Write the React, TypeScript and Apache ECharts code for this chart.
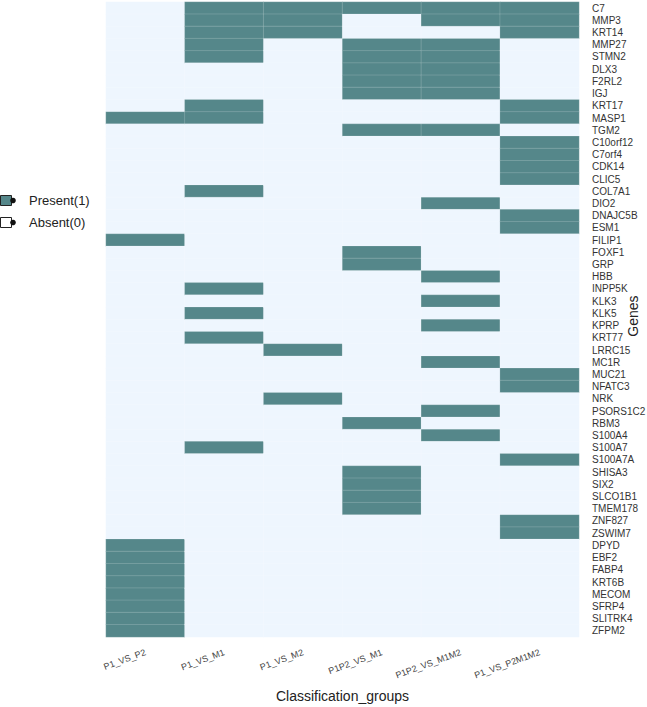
import React, { useEffect, useRef } from "react";
import * as echarts from "echarts";

const groups = ["P1_VS_P2", "P1_VS_M1", "P1_VS_M2", "P1P2_VS_M1", "P1P2_VS_M1M2", "P1_VS_P2M1M2"];

const genes = [
  "C7", "MMP3", "KRT14", "MMP27", "STMN2", "DLX3", "F2RL2", "IGJ", "KRT17", "MASP1",
  "TGM2", "C10orf12", "C7orf4", "CDK14", "CLIC5", "COL7A1", "DIO2", "DNAJC5B", "ESM1", "FILIP1",
  "FOXF1", "GRP", "HBB", "INPP5K", "KLK3", "KLK5", "KPRP", "KRT77", "LRRC15", "MC1R",
  "MUC21", "NFATC3", "NRK", "PSORS1C2", "RBM3", "S100A4", "S100A7", "S100A7A", "SHISA3", "SIX2",
  "SLCO1B1", "TMEM178", "ZNF827", "ZSWIM7", "DPYD", "EBF2", "FABP4", "KRT6B", "MECOM", "SFRP4",
  "SLITRK4", "ZFPM2",
];

// genes marked Present(1) in each classification group
const present_P1_VS_P2 = ["MASP1", "FILIP1", "DPYD", "EBF2", "FABP4", "KRT6B", "MECOM", "SFRP4", "SLITRK4", "ZFPM2"];
const present_P1_VS_M1 = ["C7", "MMP3", "KRT14", "MMP27", "STMN2", "KRT17", "MASP1", "COL7A1", "INPP5K", "KLK5", "KRT77", "S100A7"];
const present_P1_VS_M2 = ["C7", "MMP3", "KRT14", "LRRC15", "NRK"];
const present_P1P2_VS_M1 = ["C7", "MMP27", "STMN2", "DLX3", "F2RL2", "IGJ", "TGM2", "FOXF1", "GRP", "RBM3", "SHISA3", "SIX2", "SLCO1B1", "TMEM178"];
const present_P1P2_VS_M1M2 = ["C7", "MMP3", "MMP27", "STMN2", "DLX3", "F2RL2", "IGJ", "TGM2", "DIO2", "HBB", "KLK3", "KPRP", "MC1R", "PSORS1C2", "S100A4"];
const present_P1_VS_P2M1M2 = ["C7", "MMP3", "KRT14", "KRT17", "MASP1", "C10orf12", "C7orf4", "CDK14", "CLIC5", "DNAJC5B", "ESM1", "MUC21", "NFATC3", "S100A7A", "ZNF827", "ZSWIM7"];

const presentLists = [
  present_P1_VS_P2,
  present_P1_VS_M1,
  present_P1_VS_M2,
  present_P1P2_VS_M1,
  present_P1P2_VS_M1M2,
  present_P1_VS_P2M1M2,
];

const legendLabels = ["Present(1)", "Absent(0)"];
const yAxisTitle = "Genes";

const DARK = "#55878a";
const LIGHT = "#eef6fe";
const FONT = "'Liberation Sans', Arial, Helvetica, sans-serif";

export default function App() {
  const ref = useRef<HTMLDivElement>(null);

  useEffect(() => {
    document.body.style.margin = "0";
    if (!ref.current) return;
    const chart = echarts.init(ref.current, undefined, { renderer: "svg" });

    const data: number[][] = [];
    groups.forEach((g, gi) => {
      genes.forEach((gene, ri) => {
        data.push([gi, ri, presentLists[gi].includes(gene) ? 1 : 0]);
      });
    });

    chart.setOption({
      animation: false,
      backgroundColor: "#ffffff",
      grid: { left: 106, right: 68, top: 2, bottom: 70, containLabel: false, outerBoundsMode: "none" },
      xAxis: {
        type: "category",
        data: groups,
        axisLine: { show: false },
        axisTick: { show: false },
        splitLine: { show: false },
        axisLabel: { rotate: 20, fontSize: 9, color: "#444", fontFamily: FONT, margin: 15, interval: 0 },
        name: "Classification_groups",
        nameLocation: "middle",
        nameGap: 52,
        nameTextStyle: { fontSize: 14, color: "#222", fontFamily: FONT },
      },
      yAxis: {
        type: "category",
        data: genes,
        inverse: true,
        position: "right",
        axisLine: { show: false },
        axisTick: { show: false },
        splitLine: { show: false },
        axisLabel: { fontSize: 10, color: "#333", fontFamily: FONT, margin: 13, interval: 0 },
      },
      visualMap: {
        show: false,
        type: "piecewise",
        dimension: 2,
        pieces: [
          { value: 0, color: LIGHT },
          { value: 1, color: DARK },
        ],
      },
      series: [
        {
          type: "heatmap",
          data,
          itemStyle: { borderColor: "rgba(255,255,255,0.16)", borderWidth: 1 },
          emphasis: { disabled: true },
        },
      ],
      graphic: [
        { type: "rect", shape: { x: 0.5, y: 195.5, width: 11, height: 10 }, style: { fill: DARK, stroke: "#222", lineWidth: 1 } },
        { type: "circle", shape: { cx: 13, cy: 200.5, r: 2.8 }, style: { fill: "#111" } },
        { type: "text", x: 29, y: 200.5, style: { text: legendLabels[0], fontSize: 13, fill: "#222", fontFamily: FONT, verticalAlign: "middle" } },
        { type: "rect", shape: { x: 0.5, y: 217.5, width: 11, height: 10 }, style: { fill: "#ffffff", stroke: "#222", lineWidth: 1 } },
        { type: "circle", shape: { cx: 13, cy: 222.5, r: 2.8 }, style: { fill: "#111" } },
        { type: "text", x: 29, y: 222.5, style: { text: legendLabels[1], fontSize: 13, fill: "#222", fontFamily: FONT, verticalAlign: "middle" } },
        {
          type: "text",
          x: 633,
          y: 316,
          rotation: Math.PI / 2,
          style: { text: yAxisTitle, fontSize: 14, fill: "#222", fontFamily: FONT, align: "center", verticalAlign: "middle" },
        },
      ],
    });

    return () => chart.dispose();
  }, []);

  return <div ref={ref} style={{ width: 647, height: 707 }} />;
}
